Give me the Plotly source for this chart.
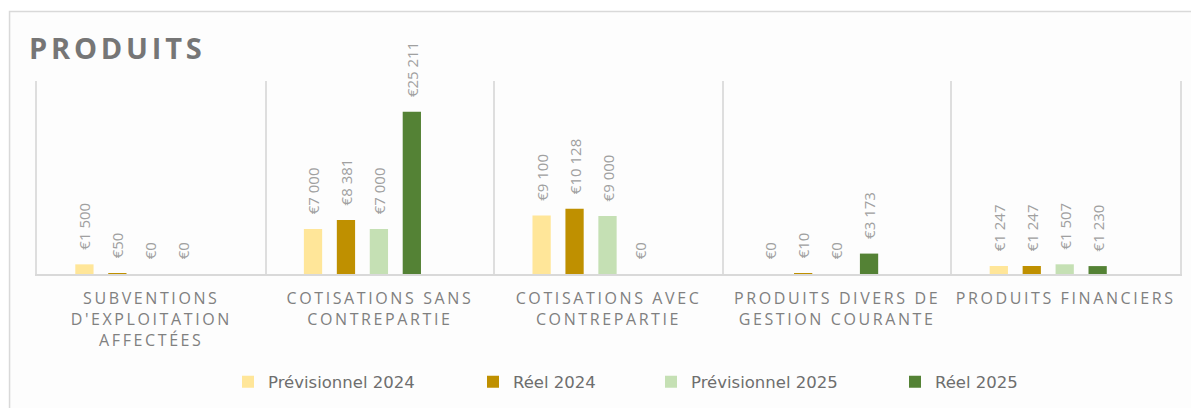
import plotly.graph_objects as go

categories = [
    "SUBVENTIONS<br>D'EXPLOITATION<br>AFFECTÉES",
    "COTISATIONS SANS<br>CONTREPARTIE",
    "COTISATIONS AVEC<br>CONTREPARTIE",
    "PRODUITS DIVERS DE<br>GESTION COURANTE",
    "PRODUITS FINANCIERS",
]
series_names = ["Prévisionnel 2024", "Réel 2024", "Prévisionnel 2025", "Réel 2025"]
prev_2024 = [1500, 7000, 9100, 0, 1247]
reel_2024 = [50, 8381, 10128, 10, 1247]
prev_2025 = [0, 7000, 9000, 0, 1507]
reel_2025 = [0, 25211, 0, 3173, 1230]
series_values = [prev_2024, reel_2024, prev_2025, reel_2025]
colors = ["#FFE699", "#BF9000", "#C5E0B4", "#548235"]

W, H = 1191, 408
ML, MR, MT, MB = 37, 9, 81, 134
cat_px = (W - ML - MR) / len(categories)
bar_w = 18.3 / cat_px
step = 33 / cat_px
first_center = -67 / cat_px

legend_px = [248, 493, 671, 915]
legend_keys = ["legend", "legend2", "legend3", "legend4"]

fig = go.Figure()
for i, (name, vals, col) in enumerate(zip(series_names, series_values, colors)):
    fig.add_trace(go.Bar(
        x=categories, y=vals, name=name,
        marker=dict(color=col, line=dict(width=0)),
        width=bar_w,
        offset=first_center + i * step - bar_w / 2,
        texttemplate="\u00a0\u00a0\u00a0€%{y:,.0f}",
        textposition="outside",
        textangle=-90,
        constraintext="none",
        cliponaxis=False,
        textfont=dict(family="Open Sans", size=15, color="#a0a0a0"),
        legend=legend_keys[i],
        hoverinfo="skip",
    ))

legend_common = dict(
    orientation="h", xref="container", yref="container",
    xanchor="left", yanchor="middle", y=1 - 382 / H,
    font=dict(family="DejaVu Sans", size=16.5, color="#6e6e6e"),
    itemwidth=30, bgcolor="rgba(0,0,0,0)", borderwidth=0,
)

layout_legends = {}
for k, px in zip(legend_keys, legend_px):
    layout_legends[k] = dict(legend_common, x=(px - 20) / W)

fig.update_layout(
    width=W, height=H, autosize=False,
    margin=dict(l=ML, r=MR, t=MT, b=MB, pad=0),
    paper_bgcolor="white", plot_bgcolor="rgba(0,0,0,0)",
    separators=", ",
    barmode="group",
    showlegend=True,
    title=dict(
        text="<b>PRODUITS</b>", x=29 / W, xref="container", xanchor="left",
        y=1 - 49 / H, yref="container", yanchor="middle",
        font=dict(family="Open Sans", size=29, color="#767676"),
    ),
    xaxis=dict(
        type="category", tickson="boundaries", showgrid=True,
        gridcolor="#dedede", gridwidth=1.5, ticks="",
        showline=True, linecolor="#d9d9d9", linewidth=1.5,
        tickfont=dict(family="Open Sans", size=16, color="#808080"),
        ticklabelstandoff=9,
        range=[-0.5, len(categories) - 0.5], fixedrange=True,
    ),
    yaxis=dict(
        range=[0, 30000], showgrid=False, zeroline=False,
        showticklabels=False, ticks="",
        showline=True, mirror=True, linecolor="#dedede", linewidth=1.5,
        fixedrange=True,
    ),
    shapes=[dict(
        type="rect", xref="paper", yref="paper",
        x0=(9.5 - ML) / (W - ML - MR), x1=1.1,
        y0=-1.0, y1=(H - MB - 11.5) / (H - MT - MB),
        line=dict(color="#d9d9d9", width=1.5), fillcolor="#fdfdfd", layer="below",
    )],
    **layout_legends,
)

css = ".xtick text{letter-spacing:2.6px}.gtitle{letter-spacing:3.8px}"
post = ("var s=document.createElement('style');s.textContent='" + css +
        "';document.head.appendChild(s);")

fig.write_html("out.html", post_script=post)
